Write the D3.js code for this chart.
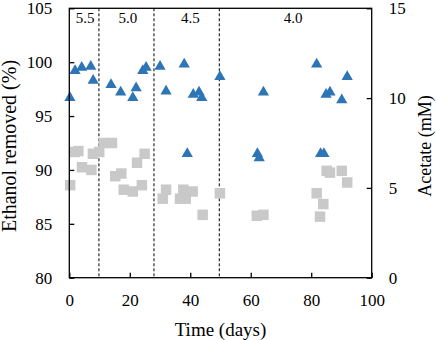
<!DOCTYPE html>
<html>
<head>
<meta charset="utf-8">
<script src="https://cdn.jsdelivr.net/npm/d3@7"></script>
<style>
  body { margin: 0; background: #fff; }
</style>
</head>
<body>
<div id="chart"></div>
<script>
// Ethanol removed (%) - blue triangles, left axis
const ethanolDays = [0.2, 1.9, 4.1, 7.1, 7.9, 13.8, 17.0, 21.0, 22.1, 24.3, 25.4, 30.0, 32.0, 38.0, 39.0, 41.0, 42.9, 43.8, 49.8, 62.2, 62.8, 64.2, 81.8, 83.1, 84.2, 84.9, 86.2, 90.1, 91.9];
const ethanolRemoved = [96.7, 99.2, 99.5, 99.6, 98.3, 97.9, 97.2, 96.7, 97.6, 99.2, 99.5, 99.6, 97.3, 99.8, 91.5, 97.0, 97.2, 96.7, 98.65, 91.5, 91.1, 97.2, 99.8, 91.5, 91.5, 97.0, 97.2, 96.5, 98.65];

// Acetate (mM) - grey squares, right axis
const acetateDays = [0.3, 1.8, 3.0, 4.2, 7.3, 7.8, 9.9, 11.4, 14.1, 15.2, 17.2, 18.0, 21.0, 22.4, 24.0, 24.9, 30.9, 32.0, 36.6, 37.7, 38.5, 40.8, 44.1, 49.8, 62.0, 64.2, 81.8, 82.9, 84.0, 85.1, 86.2, 90.1, 91.9];
const acetateMM = [5.15, 7.0, 7.05, 6.15, 6.0, 6.9, 7.0, 7.5, 7.5, 5.65, 5.8, 4.9, 4.8, 6.4, 5.15, 6.9, 4.4, 4.9, 4.4, 4.9, 4.4, 4.8, 3.5, 4.7, 3.45, 3.5, 4.7, 3.4, 4.1, 5.95, 5.85, 5.95, 5.3];

// pH phases
const phaseBounds = [9.8, 28, 49.6];
const phaseLabels = ['5.5', '5.0', '4.5', '4.0'];
const phaseLabelDays = [5.2, 19.4, 40, 74];

const xTicks = [0, 20, 40, 60, 80, 100];
const leftTicks = [80, 85, 90, 95, 100, 105];
const rightTicks = [0, 5, 10, 15];

const serif = "'Liberation Serif', 'Times New Roman', serif";

const width = 436, height = 340;
const margin = { top: 8.3, right: 64.3, bottom: 62.3, left: 69.3 };
const innerWidth = width - margin.left - margin.right;
const innerHeight = height - margin.top - margin.bottom;

const svg = d3.select('#chart').append('svg')
    .attr('width', width)
    .attr('height', height)
    .style('font-family', serif);

const g = svg.append('g')
    .attr('transform', `translate(${margin.left},${margin.top})`);

const x = d3.scaleLinear().domain([0, 100]).range([0, innerWidth]);
const yLeft = d3.scaleLinear().domain([80, 105]).range([innerHeight, 0]);
const yRight = d3.scaleLinear().domain([0, 15]).range([innerHeight, 0]);

// Phase separators
g.selectAll('.phase-line')
    .data(phaseBounds)
    .enter()
    .append('line')
    .attr('x1', d => x(d))
    .attr('x2', d => x(d))
    .attr('y1', 0)
    .attr('y2', innerHeight)
    .attr('stroke', '#000')
    .attr('stroke-width', 1)
    .attr('stroke-dasharray', '3,2');

g.selectAll('.phase-label')
    .data(phaseLabels)
    .enter()
    .append('text')
    .attr('x', (d, i) => x(phaseLabelDays[i]))
    .attr('y', 15)
    .attr('text-anchor', 'middle')
    .style('font-family', serif)
    .style('font-size', '15px')
    .text(d => d);

// Acetate squares
const acetate = acetateDays.map((d, i) => ({ day: d, v: acetateMM[i] }));
g.selectAll('.sq')
    .data(acetate)
    .enter()
    .append('path')
    .attr('d', d3.symbol(d3.symbolSquare, 110))
    .attr('transform', d => `translate(${x(d.day)},${yRight(d.v)})`)
    .attr('fill', '#C9C9C9');

// Ethanol triangles
const ethanol = ethanolDays.map((d, i) => ({ day: d, v: ethanolRemoved[i] }));
g.selectAll('.tri')
    .data(ethanol)
    .enter()
    .append('path')
    .attr('d', d3.symbol(d3.symbolTriangle, 55))
    .attr('transform', d => `translate(${x(d.day)},${yLeft(d.v)})`)
    .attr('fill', '#2E75B6');

// Axes (inward ticks)
const xAxis = g.append('g')
    .attr('transform', `translate(0,${innerHeight})`)
    .call(d3.axisBottom(x).tickValues(xTicks).tickSizeInner(-5).tickSizeOuter(0).tickPadding(16));

const lAxis = g.append('g')
    .call(d3.axisLeft(yLeft).tickValues(leftTicks).tickSizeInner(-5).tickSizeOuter(0).tickPadding(17));

const rAxis = g.append('g')
    .attr('transform', `translate(${innerWidth},0)`)
    .call(d3.axisRight(yRight).tickValues(rightTicks).tickSizeInner(-5).tickSizeOuter(0).tickPadding(17));

[xAxis, lAxis, rAxis].forEach(a => {
    a.attr('font-family', null).attr('font-size', null);
    a.select('.domain').remove();
    a.selectAll('line').attr('stroke', '#000').attr('stroke-width', 1.3);
    a.selectAll('text')
        .style('font-family', serif)
        .style('font-size', '17px')
        .attr('fill', '#000');
});

// Frame
g.append('rect')
    .attr('x', 0)
    .attr('y', 0)
    .attr('width', innerWidth)
    .attr('height', innerHeight)
    .attr('fill', 'none')
    .attr('stroke', '#000')
    .attr('stroke-width', 1.3);

// Axis titles
g.append('text')
    .attr('x', innerWidth / 2)
    .attr('y', innerHeight + 58.5)
    .attr('text-anchor', 'middle')
    .style('font-family', serif)
    .style('font-size', '19px')
    .text('Time (days)');

g.append('text')
    .attr('transform', 'rotate(-90)')
    .attr('x', -(146 - margin.top))
    .attr('y', -53)
    .attr('text-anchor', 'middle')
    .style('font-family', serif)
    .style('font-size', '20px')
    .text('Ethanol removed (%)');

g.append('text')
    .attr('transform', 'rotate(-90)')
    .attr('x', -(146 - margin.top))
    .attr('y', innerWidth + 59.5)
    .attr('text-anchor', 'middle')
    .style('font-family', serif)
    .style('font-size', '18px')
    .text('Acetate (mM)');
</script>
</body>
</html>
